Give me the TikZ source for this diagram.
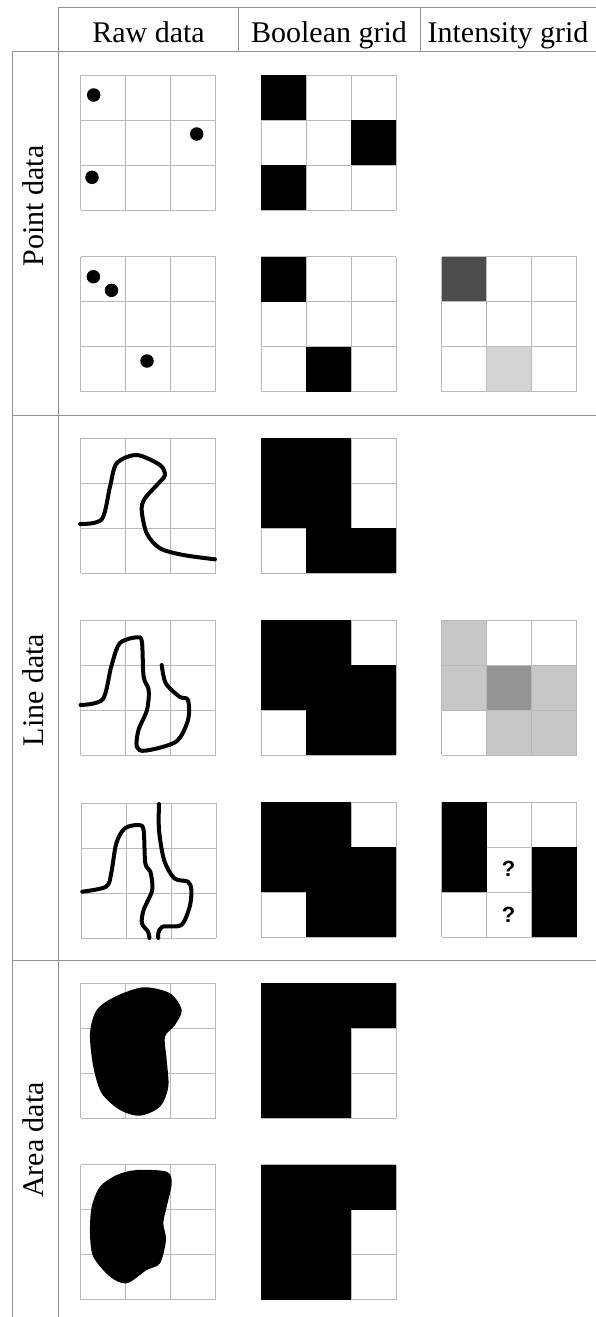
\documentclass[tikz,border=0pt]{standalone}
\usepackage{fontspec}
\setmainfont{Liberation Serif}
\newfontfamily\qfont{Liberation Sans}
\tikzset{
  tableline/.style={draw=black!42, line width=1pt},
  gridline/.style={draw=black!27, line width=1pt},
  hdr/.style={font=\fontsize{30}{36}\selectfont, anchor=base, inner sep=0pt},
  curve/.style={line width=4pt, line cap=round, line join=round},
  dot/.style={circle, fill=black, inner sep=0pt, minimum size=13.5pt},
  qmark/.style={font=\qfont\bfseries\fontsize{22}{26}\selectfont, inner sep=0pt},
}
\newcommand\mygrid{\foreach \i in {0,45,90,135}{\draw[gridline] (\i,0) -- (\i,135); \draw[gridline] (0,\i) -- (135,\i);}}
\newcommand\mycell[3]{\fill[#3] (#1*45,#2*45) rectangle ++(45,45);}
\begin{document}
\begin{tikzpicture}[x=1pt,y=-1pt]
\fill[white] (0,0) rectangle (596,1317);
\useasboundingbox (0,0) rectangle (596,1317);

% table lines
\draw[tableline] (58.5,7.3) -- (596,7.3);
\draw[tableline] (12.7,51) -- (596,51);
\draw[tableline] (238.5,7.3) -- (238.5,51);
\draw[tableline] (420,7.3) -- (420,51);
\draw[tableline] (58.5,7.3) -- (58.5,1317);
\draw[tableline] (12.7,51) -- (12.7,1317);
\draw[tableline] (12.7,415.7) -- (596,415.7);
\draw[tableline] (12.7,960.7) -- (596,960.7);

% headers
\node[hdr] (hraw) at (148.5,42.5) {Raw data};
\node[hdr] (hbool) at (329,42.5) {Boolean grid};
\node[hdr] (hint) at (508,42.5) {Intensity grid};
\node[hdr, rotate=90] (rpoint) at (43.5,206) {Point data};
\node[hdr, rotate=90] (rline) at (43.5,690) {Line data};
\node[hdr, rotate=90] (rarea) at (43.5,1140) {Area data};

% ---------- Row 1 ----------
\begin{scope}[shift={(80.7,75.3)}] \mygrid \end{scope}
\node[dot] (p11) at (93.7,95) {};
\node[dot] (p12) at (196.7,134) {};
\node[dot] (p13) at (92,177.3) {};
\begin{scope}[shift={(261,75.3)}] \mygrid
  \mycell{0}{0}{black} \mycell{2}{1}{black} \mycell{0}{2}{black}
\end{scope}

% ---------- Row 2 ----------
\begin{scope}[shift={(80.7,256.7)}] \mygrid \end{scope}
\node[dot] (p21) at (93.4,276.7) {};
\node[dot] (p22) at (111.5,290.3) {};
\node[dot] (p23) at (147,361) {};
\begin{scope}[shift={(261,256.7)}] \mygrid
  \mycell{0}{0}{black} \mycell{1}{2}{black}
\end{scope}
\begin{scope}[shift={(441.5,256.7)}]
  \mycell{0}{0}{black!70} \mycell{1}{2}{black!17}
  \mygrid
\end{scope}

% ---------- Row 3 ----------
\begin{scope}[shift={(80.7,438.3)}] \mygrid \end{scope}
\draw[curve] plot[smooth] coordinates {(80,524) (101.7,519.3) (110,486.7) (116.7,463.3) (136.7,455) (160,465) (165,475) (160,481.7) (145,498.3) (141.7,510) (146.7,533.3) (160,548.3) (183.3,555) (215,559.3)};
\begin{scope}[shift={(261,438.3)}] \mygrid
  \mycell{0}{0}{black} \mycell{1}{0}{black} \mycell{0}{1}{black} \mycell{1}{1}{black} \mycell{1}{2}{black} \mycell{2}{2}{black}
\end{scope}

% ---------- Row 4 ----------
\begin{scope}[shift={(80.7,620)}] \mygrid \end{scope}
\draw[curve] plot[smooth] coordinates {(80.5,705) (102.7,699.3) (111.2,666.7) (119.7,643.3) (136.8,637.3) (141.9,641.7) (143.6,676.7) (148.7,690) (147,710) (138.5,730) (136.8,746.7) (145.3,750.7) (176,741.7) (188,720) (188,700) (179.5,696.7) (165.8,683.3) (161.7,665)};
\begin{scope}[shift={(261,620)}] \mygrid
  \mycell{0}{0}{black} \mycell{1}{0}{black} \mycell{0}{1}{black} \mycell{1}{1}{black} \mycell{2}{1}{black} \mycell{1}{2}{black} \mycell{2}{2}{black}
\end{scope}
\begin{scope}[shift={(441.5,620)}]
  \mycell{0}{0}{black!22} \mycell{0}{1}{black!22} \mycell{1}{1}{black!42} \mycell{2}{1}{black!22} \mycell{1}{2}{black!22} \mycell{2}{2}{black!22}
  \mygrid
\end{scope}

% ---------- Row 5 ----------
\begin{scope}[shift={(81,803)}] \mygrid \end{scope}
\draw[curve] plot[smooth] coordinates {(82.2,891.7) (106.1,886.7) (111.2,873.3) (116.3,843.3) (124.8,828.3) (138.5,825) (143.6,830) (145.3,863.3) (150.4,871.7) (152.2,890) (143.6,910) (141.9,923.3) (148.1,931.7) (149.4,938)};
\draw[curve] plot[smooth] coordinates {(159,804) (159,830) (164.1,860) (174.3,878.3) (188,881.7) (191.4,890) (189.7,906.7) (181.2,925) (162.4,926.7) (158.3,933.3) (158.3,938)};
\begin{scope}[shift={(261,802)}] \mygrid
  \mycell{0}{0}{black} \mycell{1}{0}{black} \mycell{0}{1}{black} \mycell{1}{1}{black} \mycell{2}{1}{black} \mycell{1}{2}{black} \mycell{2}{2}{black}
\end{scope}
\begin{scope}[shift={(441.5,802)}] \mygrid
  \mycell{0}{0}{black} \mycell{0}{1}{black} \mycell{2}{1}{black} \mycell{2}{2}{black}
\end{scope}
\node[qmark] (q1) at (508.5,869) {?};
\node[qmark] (q2) at (508.5,914.5) {?};

% ---------- Row 6 ----------
\begin{scope}[shift={(80.7,983.3)}] \mygrid \end{scope}
\fill plot[smooth cycle] coordinates {(143.3,987.3) (170,993.3) (181.7,1010) (175,1025) (165,1036.7) (166.7,1060) (168.3,1086.7) (160,1106.7) (140,1115.7) (120,1110) (101.7,1093.3) (93.3,1066.7) (90,1033.3) (96.7,1010) (115,996.7)};
\begin{scope}[shift={(261,983.3)}] \mygrid
  \mycell{0}{0}{black} \mycell{1}{0}{black} \mycell{2}{0}{black} \mycell{0}{1}{black} \mycell{1}{1}{black} \mycell{0}{2}{black} \mycell{1}{2}{black}
\end{scope}

% ---------- Row 7 ----------
\begin{scope}[shift={(80.7,1164.7)}] \mygrid \end{scope}
\fill plot[smooth cycle] coordinates {(136.7,1170) (166.7,1171.7) (171.7,1183.3) (166.7,1206.7) (163.3,1223.3) (166,1240) (160,1263.3) (146.7,1270) (126.7,1283.3) (110,1276.7) (93.3,1256.7) (90,1233.3) (91.7,1206.7) (100,1186.7) (116.7,1175)};
\begin{scope}[shift={(261,1164.7)}] \mygrid
  \mycell{0}{0}{black} \mycell{1}{0}{black} \mycell{2}{0}{black} \mycell{0}{1}{black} \mycell{1}{1}{black} \mycell{0}{2}{black} \mycell{1}{2}{black}
\end{scope}
\end{tikzpicture}
\end{document}
